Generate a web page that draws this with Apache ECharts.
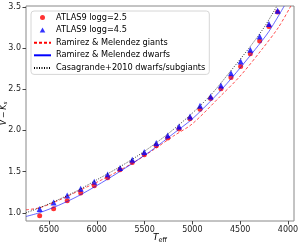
<!DOCTYPE html>
<html><head><meta charset="utf-8">
<script src="https://cdn.jsdelivr.net/npm/echarts@6/dist/echarts.min.js"></script>
<style>html,body{margin:0;padding:0;background:#fff}#c{width:299px;height:245px}</style>
</head><body><div id="c"></div>
<script>
// ATLAS9 model points
const teffPoints = [6597,6451,6309,6168,6026,5886,5757,5629,5503,5378,5258,5140,5025,4920,4809,4701,4596,4495,4394,4296,4199,4108];
const vkLogg25 = [0.964,1.049,1.146,1.239,1.328,1.425,1.522,1.610,1.704,1.813,1.907,2.016,2.141,2.258,2.387,2.505,2.642,2.776,2.930,3.084,3.261,3.436];
const vkLogg45 = [1.045,1.125,1.210,1.291,1.376,1.465,1.542,1.643,1.737,1.846,1.938,2.047,2.169,2.299,2.411,2.545,2.695,2.836,2.978,3.140,3.290,3.451];
const teffRMGiants = [6740,6600,6400,6200,6000,5800,5600,5400,5200,5000,4711,4500,4275,4100,3970];
const vkRMGiants   = [1.036,1.06,1.15,1.26,1.37,1.49,1.62,1.77,1.93,2.08,2.41,2.66,2.98,3.25,3.51];
const teffRMDwarfs = [6740,6600,6400,6200,6000,5800,5600,5400,5200,5000,4764,4600,4345,4200,4039];
const vkRMDwarfs   = [0.955,1.00,1.09,1.20,1.33,1.47,1.62,1.78,1.96,2.14,2.41,2.62,2.98,3.20,3.51];
const teffCas = [6740,6600,6400,6200,6000,5800,5600,5400,5200,5000,4800,4600,4400,4250,4120];
const vkCas   = [1.00,1.06,1.16,1.27,1.40,1.53,1.67,1.83,2.01,2.21,2.44,2.72,3.01,3.25,3.50];
const xTicks = [4000,4500,5000,5500,6000,6500];
const yTicks = [1.0,1.5,2.0,2.5,3.0,3.5];
const names = ['ATLAS9 logg=2.5','ATLAS9 logg=4.5','Ramirez & Melendez giants','Ramirez & Melendez dwarfs','Casagrande+2010 dwarfs/subgiants'];

const zip = (a,b) => a.map((v,i)=>[v,b[i]]);
const FONT = 'DejaVu Sans';
const chart = echarts.init(document.getElementById('c'), null, {renderer:'canvas'});
chart.setOption({
  animation:false,
  textStyle:{fontFamily:FONT},
  grid:{left:26,right:5,top:6,bottom:24,containLabel:false,outerBoundsMode:'none',show:true,borderColor:'#888',borderWidth:1,backgroundColor:'transparent'},
  xAxis:{type:'value',inverse:true,min:3937,max:6740,
    axisLine:{show:false},splitLine:{show:false},
    axisTick:{show:true,length:3.5,lineStyle:{color:'#444'},customValues:xTicks},
    axisLabel:{color:'#222',fontSize:8,fontFamily:FONT,margin:5,customValues:xTicks,formatter:v=>String(v)},
    name:'{i|T}{s|eff}',nameLocation:'middle',nameGap:11,nameMoveOverlap:false,
    nameTextStyle:{rich:{i:{fontStyle:'italic',fontSize:9,fontFamily:FONT,color:'#000'},s:{fontSize:6.5,fontFamily:FONT,color:'#000',padding:[5,0,0,0]}}}
  },
  yAxis:{type:'value',min:0.9,max:3.51,
    axisLine:{show:false},splitLine:{show:false},
    axisTick:{show:true,length:3.5,lineStyle:{color:'#444'},customValues:yTicks},
    axisLabel:{color:'#222',fontSize:8,fontFamily:FONT,margin:5,customValues:yTicks,formatter:v=>v.toFixed(1)},
    name:'{i|V}{m|\u2009−\u2009}{i|K}{s|s}',nameLocation:'middle',nameGap:17,nameRotate:90,nameMoveOverlap:false,
    nameTextStyle:{rich:{i:{fontStyle:'italic',fontSize:8,fontFamily:FONT,color:'#000'},m:{fontSize:8,fontFamily:FONT,color:'#000'},s:{fontStyle:'italic',fontSize:5.5,fontFamily:FONT,color:'#000',padding:[4,0,0,0]}}}
  },
  legend:{orient:'vertical',left:31,top:11,padding:[2,4,2,2],itemGap:3.6,itemWidth:17,itemHeight:5,symbolKeepAspect:true,
    backgroundColor:'#fff',borderColor:'#d6d6d6',borderWidth:1,borderRadius:3,
    textStyle:{fontSize:8.2,fontFamily:FONT,color:'#000',lineHeight:9},
    lineStyle:{opacity:1},
    data:[
      {name:names[0],icon:'circle'},
      {name:names[1],icon:'path://M5,0L10,9L0,9Z'},
      {name:names[2],itemStyle:{opacity:0}},
      {name:names[3],itemStyle:{opacity:0}},
      {name:names[4],itemStyle:{opacity:0}}
    ]},
  series:[
    {name:names[0],type:'scatter',data:zip(teffPoints,vkLogg25),symbol:'circle',symbolSize:5,itemStyle:{color:'#ff0000'},z:2},
    {name:names[1],type:'scatter',data:zip(teffPoints,vkLogg45),symbol:'triangle',symbolSize:6,itemStyle:{color:'#0000ff'},z:3},
    {name:names[2],type:'line',data:zip(teffRMGiants,vkRMGiants),smooth:0.3,symbol:'none',showSymbol:false,lineStyle:{color:'#ff0000',width:1,type:[3,2],opacity:0.7},itemStyle:{color:'#ff0000'},z:4},
    {name:names[3],type:'line',data:zip(teffRMDwarfs,vkRMDwarfs),smooth:0.3,symbol:'none',showSymbol:false,lineStyle:{color:'#0000ff',width:1,type:'solid',opacity:0.6},itemStyle:{color:'#0000ff'},z:4},
    {name:names[4],type:'line',data:zip(teffCas,vkCas),smooth:0.3,symbol:'none',showSymbol:false,lineStyle:{color:'#000000',width:1,type:[1,1.5],opacity:0.8},itemStyle:{color:'#000'},z:4}
  ]
});
</script></body></html>
